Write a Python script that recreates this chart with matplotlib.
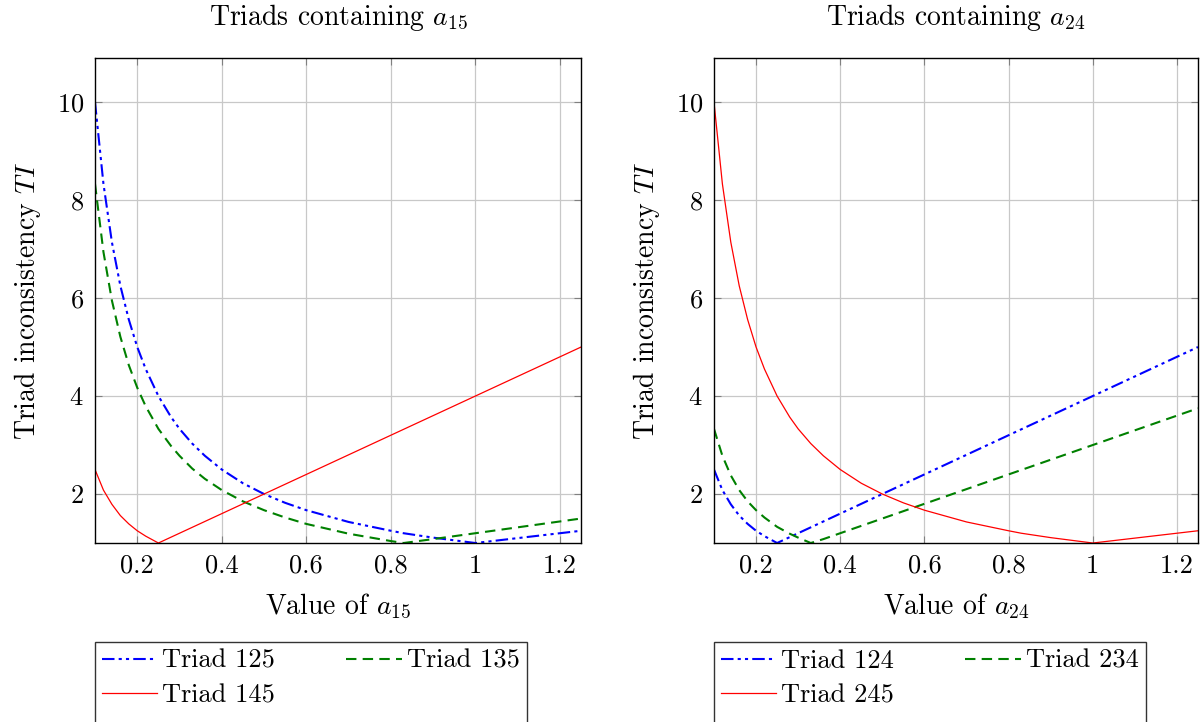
import matplotlib.pyplot as plt
from matplotlib.lines import Line2D

# values of a (shared sample positions)
a_vals = [0.10, 0.12, 0.14, 0.16, 0.18, 0.20, 0.22, 0.25, 0.28, 0.30, 0.33, 0.36,
          0.40, 0.45, 0.50, 0.55, 0.60, 0.70, 0.80, 0.83, 0.90, 1.00, 1.10, 1.25]

# left panel: triads containing a15
ti_125 = [10.0, 8.33, 7.14, 6.25, 5.56, 5.00, 4.55, 4.00, 3.57, 3.33, 3.03, 2.78,
          2.50, 2.22, 2.00, 1.82, 1.67, 1.43, 1.25, 1.20, 1.11, 1.00, 1.10, 1.25]
ti_135 = [8.33, 6.94, 5.95, 5.21, 4.63, 4.17, 3.79, 3.33, 2.98, 2.78, 2.52, 2.31,
          2.08, 1.85, 1.67, 1.52, 1.39, 1.19, 1.04, 1.00, 1.08, 1.20, 1.32, 1.50]
ti_145 = [2.50, 2.08, 1.79, 1.56, 1.39, 1.25, 1.14, 1.00, 1.12, 1.20, 1.32, 1.44,
          1.60, 1.80, 2.00, 2.20, 2.40, 2.80, 3.20, 3.32, 3.60, 4.00, 4.40, 5.00]

# right panel: triads containing a24
ti_124 = [2.50, 2.08, 1.79, 1.56, 1.39, 1.25, 1.14, 1.00, 1.12, 1.20, 1.32, 1.44,
          1.60, 1.80, 2.00, 2.20, 2.40, 2.80, 3.20, 3.32, 3.60, 4.00, 4.40, 5.00]
ti_234 = [3.33, 2.78, 2.38, 2.08, 1.85, 1.67, 1.52, 1.33, 1.19, 1.11, 1.00, 1.08,
          1.20, 1.35, 1.50, 1.65, 1.80, 2.10, 2.40, 2.49, 2.70, 3.00, 3.30, 3.75]
ti_245 = [10.0, 8.33, 7.14, 6.25, 5.56, 5.00, 4.55, 4.00, 3.57, 3.33, 3.03, 2.78,
          2.50, 2.22, 2.00, 1.82, 1.67, 1.43, 1.25, 1.20, 1.11, 1.00, 1.10, 1.25]

x_ticks = [0.2, 0.4, 0.6, 0.8, 1.0, 1.2]
x_tick_labels = ["0.2", "0.4", "0.6", "0.8", "1", "1.2"]
y_ticks = [2, 4, 6, 8, 10]

plt.rcParams['font.family'] = 'cmr10'
plt.rcParams['mathtext.fontset'] = 'cm'
plt.rcParams['axes.formatter.use_mathtext'] = True

azul = '#0000ff'
verde = (0, 0.5, 0)
vermelho = '#ff0000'
fs = 20

fig = plt.figure(figsize=(12.04, 7.22), dpi=100)
ax1 = fig.add_axes([0.0789, 0.2479, 0.4037, 0.6718])
ax2 = fig.add_axes([0.5930, 0.2479, 0.4020, 0.6718])


def painel(ax, series, nome):
    estilos = [dict(color=azul, lw=1.5, dashes=(6, 2, 1.5, 2, 1.5, 2)),
               dict(color=verde, lw=1.5, dashes=(5, 3)),
               dict(color=vermelho, lw=0.9)]
    handles = []
    for (rotulo, vals), est in zip(series, estilos):
        h, = ax.plot(a_vals, vals, label=rotulo, **est)
        handles.append(h)

    ax.set_xlim(0.1, 1.25)
    ax.set_ylim(1, 10.9)
    ax.set_xticks(x_ticks)
    ax.set_xticklabels(x_tick_labels)
    ax.set_yticks(y_ticks)
    ax.grid(True, color='#c8c8c8', lw=0.9)
    ax.set_axisbelow(True)
    ax.tick_params(direction='in', length=5, width=0.8, color='#808080',
                   top=True, right=True, labelsize=fs - 1, pad=8)
    for s in ax.spines.values():
        s.set_linewidth(1.0)

    ax.set_title(f"Triads containing $a_{{{nome}}}$", fontsize=fs, pad=24)
    ax.set_xlabel(f"Value of $a_{{{nome}}}$", fontsize=fs, labelpad=10)
    ax.set_ylabel("Triad inconsistency $TI$", fontsize=fs, labelpad=10)

    vazio = Line2D([], [], color='none')
    ordem = [handles[0], handles[2], vazio, handles[1], vazio, vazio]
    rotulos = [series[0][0], series[2][0], " ", series[1][0], " ", " "]
    leg = ax.legend(ordem, rotulos, ncol=2, loc='upper left',
                    bbox_to_anchor=(0, -0.205), borderaxespad=0,
                    fontsize=19, frameon=True, fancybox=False,
                    edgecolor='black', handlelength=2.1, handletextpad=0.2,
                    columnspacing=2.7, labelspacing=0.4, borderpad=0.25)
    leg.get_frame().set_linewidth(1.0)


painel(ax1, [("Triad 125", ti_125), ("Triad 135", ti_135), ("Triad 145", ti_145)], "15")
painel(ax2, [("Triad 124", ti_124), ("Triad 234", ti_234), ("Triad 245", ti_245)], "24")

fig.savefig("out.png", dpi=100)
